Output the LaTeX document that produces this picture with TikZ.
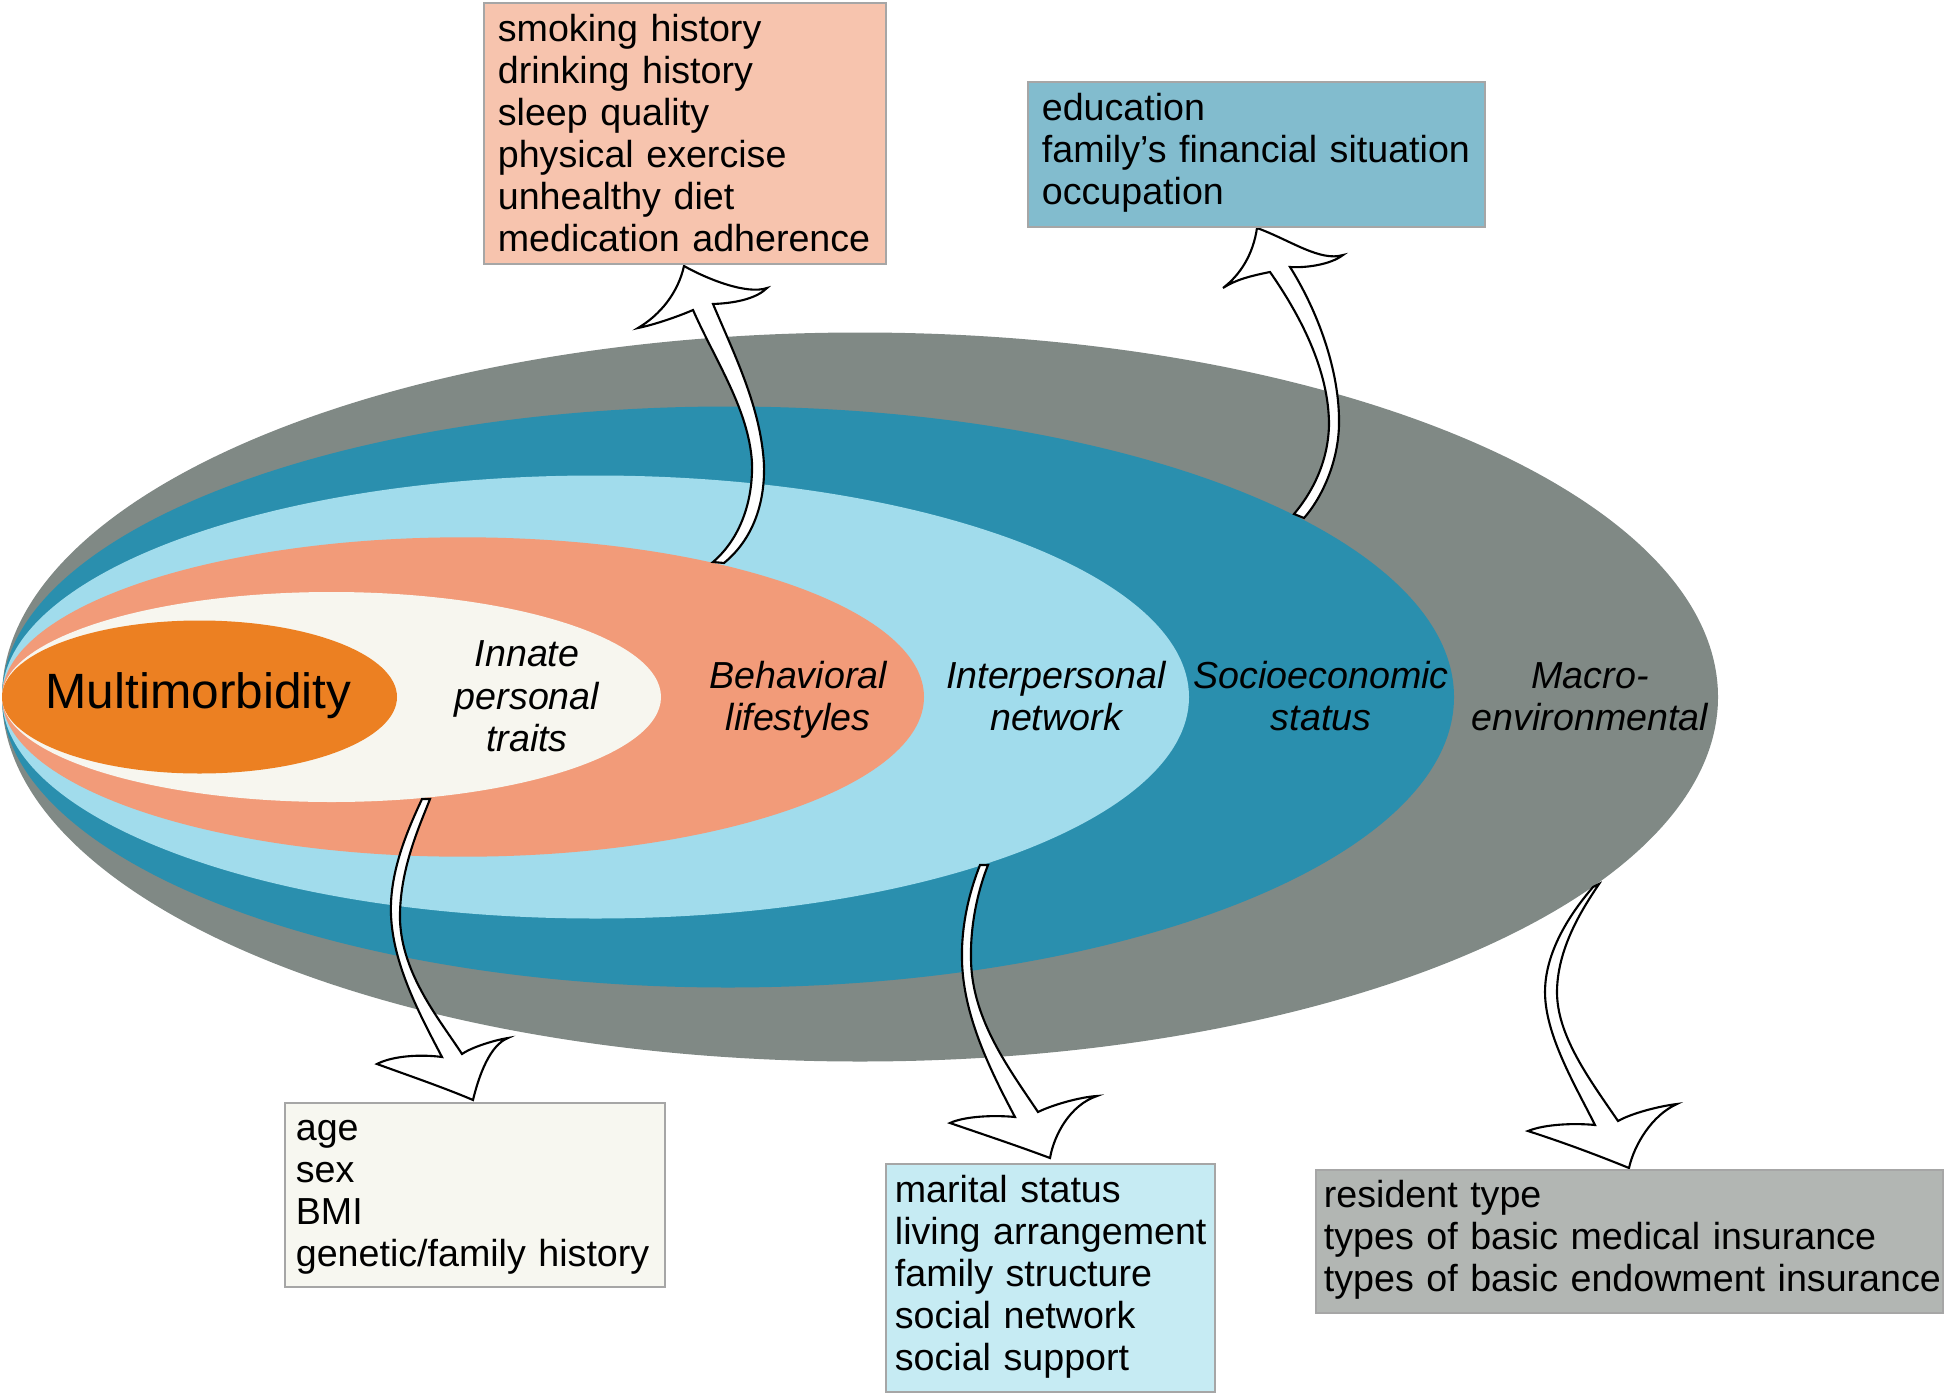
\documentclass[tikz,border=0pt]{standalone}
\usepackage{fontspec}
\setmainfont{Liberation Sans}
\definecolor{macroring}{RGB}{128,137,133}
\definecolor{sesring}{RGB}{42,143,174}
\definecolor{netring}{RGB}{161,220,236}
\definecolor{lifering}{RGB}{242,155,121}
\definecolor{innatering}{RGB}{247,246,239}
\definecolor{multiring}{RGB}{236,128,34}
\definecolor{lifefill}{RGB}{247,196,174}
\definecolor{sesfill}{RGB}{130,188,206}
\definecolor{innatefill}{RGB}{247,247,240}
\definecolor{netfill}{RGB}{198,235,243}
\definecolor{macrofill}{RGB}{178,182,179}
\tikzset{
  factorbox/.style={draw=black!35, line width=0.5pt, anchor=north west, align=left, inner ysep=0pt,
    font=\fontsize{10.7}{11.95}\selectfont, execute at begin node=\strut, execute at end node=\strut},
  layerlabel/.style={font=\fontsize{10.7}{11.95}\selectfont\itshape, align=center, text width=2.8cm,
    inner sep=0pt, execute at begin node=\strut, execute at end node=\strut},
  bendarrow/.style={fill=white, draw=black, line width=0.6pt}
}

\begin{document}
\begin{tikzpicture}[x=0.01cm, y=-0.01cm]
  \useasboundingbox (0,0) rectangle (1946,1394);

  \fill[macroring] (860,697) ellipse [x radius=858, y radius=364.5];
  \fill[sesring] (728,697) ellipse [x radius=726, y radius=290.5];
  \fill[netring] (595.5,697) ellipse [x radius=593.5, y radius=221.5];
  \fill[lifering] (463,697) ellipse [x radius=461, y radius=159.7];
  \fill[innatering] (331.5,697) ellipse [x radius=329.5, y radius=105];
  \fill[multiring] (199.5,697) ellipse [x radius=197.5, y radius=76.5];

  \node[font=\fontsize{14.1}{17}\selectfont, anchor=base, inner sep=0pt] (multi) at (198.5,708) {Multimorbidity};
  \node[layerlabel] (innate) at (527,700.6) {Innate\\personal\\traits};
  \node[layerlabel] (behav) at (798,700.6) {Behavioral\\lifestyles};
  \node[layerlabel] (inter) at (1056,700.6) {Interpersonal\\network};
  \node[layerlabel] (socio) at (1321,700.6) {Socioeconomic\\status};
  \node[layerlabel] (macro) at (1590,700.6) {Macro-\\environmental};

  \filldraw[bendarrow] (684,266) .. controls (707,279) and (747,295) .. (767,288)
    .. controls (758,297) and (740,303) .. (713,304)
    .. controls (735,356) and (761,408) .. (764,465)
    .. controls (765,505) and (752,540) .. (724,563)
    -- (713,562)
    .. controls (741,538) and (753,500) .. (752,463)
    .. controls (749,410) and (716,362) .. (693,310)
    .. controls (677,317) and (653,325) .. (638,328)
    .. controls (660,315) and (678,293) .. cycle;

  \filldraw[bendarrow] (1257,228) .. controls (1290,240) and (1320,262) .. (1343,255)
    .. controls (1330,265) and (1305,268) .. (1290,267)
    .. controls (1317,310) and (1340,370) .. (1339,425)
    .. controls (1338,465) and (1320,500) .. (1304,518)
    -- (1294,514)
    .. controls (1310,495) and (1328,465) .. (1329,425)
    .. controls (1329,370) and (1300,315) .. (1270,272)
    .. controls (1250,276) and (1235,280) .. (1223,288)
    .. controls (1240,275) and (1253,255) .. cycle;

  \filldraw[bendarrow] (473,1100) .. controls (479,1075) and (490,1045) .. (508,1038)
    .. controls (495,1040) and (472,1047) .. (462,1054)
    .. controls (440,1020) and (402,975) .. (400,920)
    .. controls (399,870) and (420,825) .. (430,799)
    -- (422,799)
    .. controls (410,825) and (389,870) .. (391,915)
    .. controls (393,965) and (420,1015) .. (442,1057)
    .. controls (420,1054) and (392,1056) .. (377,1064)
    .. controls (410,1076) and (445,1088) .. cycle;

  \filldraw[bendarrow] (1050,1158) .. controls (1054,1135) and (1070,1105) .. (1097,1096)
    .. controls (1080,1097) and (1052,1105) .. (1038,1112)
    .. controls (1010,1070) and (972,1020) .. (971,960)
    .. controls (970,920) and (980,885) .. (988,865)
    -- (980,865)
    .. controls (972,885) and (961,920) .. (962,960)
    .. controls (963,1015) and (990,1070) .. (1015,1117)
    .. controls (995,1115) and (965,1116) .. (950,1123)
    .. controls (985,1135) and (1018,1146) .. cycle;

  \filldraw[bendarrow] (1629,1168) .. controls (1634,1145) and (1652,1115) .. (1677,1104)
    .. controls (1660,1106) and (1632,1113) .. (1618,1121)
    .. controls (1590,1080) and (1556,1035) .. (1557,990)
    .. controls (1558,945) and (1585,905) .. (1599,884)
    -- (1593,887)
    .. controls (1575,908) and (1545,948) .. (1545,992)
    .. controls (1545,1035) and (1575,1085) .. (1595,1125)
    .. controls (1575,1123) and (1545,1124) .. (1528,1131)
    .. controls (1565,1143) and (1597,1155) .. cycle;

  \node[factorbox, fill=lifefill, minimum width=4.02cm, minimum height=2.61cm, inner xsep=0.14cm, text width=3.74cm,
    execute at begin node=\rule{0pt}{11pt}]
    (lifebox) at (483,2) {smoking history\\drinking history\\sleep quality\\physical exercise\\unhealthy diet\\medication adherence};
  \node[factorbox, fill=sesfill, minimum width=4.57cm, minimum height=1.45cm, inner xsep=0.14cm, text width=4.29cm]
    (sesbox) at (1027,81) {education\\\mbox{family’s financial situation}\\occupation};
  \node[factorbox, fill=innatefill, minimum width=3.80cm, minimum height=1.84cm, inner xsep=0.11cm, text width=3.58cm]
    (innatebox) at (284,1102) {age\\sex\\BMI\\genetic/family history};
  \node[factorbox, fill=netfill, minimum width=3.29cm, minimum height=2.28cm, inner xsep=0.09cm, text width=3.11cm]
    (netbox) at (885,1163) {marital status\\\mbox{living arrangement}\\family structure\\social network\\social support};
  \node[factorbox, fill=macrofill, minimum width=6.27cm, minimum height=1.43cm, inner xsep=0.08cm, text width=6.11cm]
    (macrobox) at (1315,1169) {resident type\\\mbox{types of basic medical insurance}\\\mbox{types of basic endowment insurance}};
\end{tikzpicture}
\end{document}
